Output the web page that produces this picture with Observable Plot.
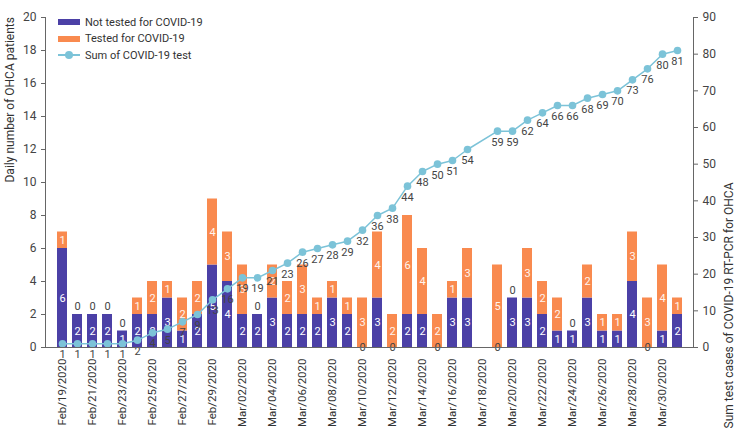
<!DOCTYPE html>
<html>
<head>
<meta charset="utf-8">
<script src="https://cdn.jsdelivr.net/npm/d3@7"></script>
<script src="https://cdn.jsdelivr.net/npm/@observablehq/plot@0.6"></script>
<style>
  html, body { margin: 0; padding: 0; background: #fff; }
  #chart { position: relative; width: 739px; height: 430px; font-family: Roboto, "Noto Sans", sans-serif; }
  .legend { position: absolute; left: 58px; top: 14px; font-size: 11px; color: #333; }
  .legend .row { display: flex; align-items: center; height: 16.5px; }
  .legend .sw { width: 22px; height: 6px; margin-right: 5px; }
  .legend .ln { width: 22px; height: 2px; margin-right: 5px; background: #7cc3d8; position: relative; }
  .legend .ln::after { content: ""; position: absolute; left: 7px; top: -3px; width: 8px; height: 8px; border-radius: 50%; background: #7cc3d8; }
</style>
</head>
<body>
<div id="chart"></div>
<script>
// Daily out-of-hospital cardiac arrest (OHCA) patients, Feb 19 – Mar 31, 2020
const dates = [
  "Feb/19/2020","Feb/20/2020","Feb/21/2020","Feb/22/2020","Feb/23/2020","Feb/24/2020","Feb/25/2020",
  "Feb/26/2020","Feb/27/2020","Feb/28/2020","Feb/29/2020","Mar/01/2020","Mar/02/2020","Mar/03/2020",
  "Mar/04/2020","Mar/05/2020","Mar/06/2020","Mar/07/2020","Mar/08/2020","Mar/09/2020","Mar/10/2020",
  "Mar/11/2020","Mar/12/2020","Mar/13/2020","Mar/14/2020","Mar/15/2020","Mar/16/2020","Mar/17/2020",
  "Mar/18/2020","Mar/19/2020","Mar/20/2020","Mar/21/2020","Mar/22/2020","Mar/23/2020","Mar/24/2020",
  "Mar/25/2020","Mar/26/2020","Mar/27/2020","Mar/28/2020","Mar/29/2020","Mar/30/2020","Mar/31/2020"
];
// null = no record for that day
const notTested = [6,2,2,2,1,2,2,3,1,2,5,4,2,2,3,2,2,2,3,2,0,3,0,2,2,0,3,3,null,0,3,3,2,1,1,3,1,1,4,0,1,2];
const tested    = [1,0,0,0,0,1,2,1,2,2,4,3,3,0,2,2,3,1,1,1,3,4,2,6,4,2,1,3,null,5,0,3,2,2,0,2,1,1,3,3,4,1];
const cumulative = [1,1,1,1,1,2,4,5,7,9,13,16,19,19,21,23,26,27,28,29,32,36,38,44,48,50,51,54,null,59,59,62,64,66,66,68,69,70,73,76,80,81];

const NT = "Not tested for COVID-19";
const T = "Tested for COVID-19";
const blue = "#4b40a6";
const orange = "#f98a4f";
const teal = "#7cc3d8";

// stacked segments: untested at the base, tested on top
const rows = [];
dates.forEach((date, i) => {
  if (notTested[i] == null) return;
  const a = notTested[i], b = tested[i];
  rows.push({date, type: NT, value: a, y1: 0, y2: a});
  rows.push({date, type: T, value: b, y1: a, y2: a + b});
});
rows.forEach(d => d.mid = (d.y1 + d.y2) / 2);
const order = [NT, T];
const line = dates.map((date, i) => ({date, sum: cumulative[i]})).filter(d => d.sum != null);

// the cumulative series shares the left y range: 0–90 maps onto 0–20
const y2 = d3.scaleLinear([0, 90], [0, 20]);

const plot = Plot.plot({
  width: 739,
  height: 430,
  marginLeft: 45,
  marginRight: 46,
  marginTop: 17,
  marginBottom: 83,
  style: {fontFamily: "Roboto, 'Noto Sans', sans-serif", fontSize: "11px", color: "#333"},
  x: {type: "band", domain: dates, padding: 0.35, label: null},
  y: {domain: [0, 20], label: null},
  color: {domain: order, range: [blue, orange]},
  marks: [
    Plot.barY(rows.filter(d => d.value > 0), {x: "date", y1: "y1", y2: "y2", fill: "type"}),
    // values inside the stacked segments
    Plot.text(rows.filter(d => d.value > 0), {x: "date", y: "mid", text: "value", fill: d => d.type === NT ? "#fff" : "#fff4ee", fontSize: 11}),
    // zero counts: untested zero at the base, tested zero above the bar
    Plot.text(rows.filter(d => d.value === 0 && d.type === NT), {x: "date", y: "mid", text: "value", fill: "#444", fontSize: 11}),
    Plot.text(rows.filter(d => d.value === 0 && d.type === T), {x: "date", y: "mid", text: "value", fill: "#444", fontSize: 11, dy: -8}),
    // cumulative tested
    Plot.line(line, {x: "date", y: d => y2(d.sum), stroke: teal, strokeWidth: 1.5}),
    Plot.dot(line, {x: "date", y: d => y2(d.sum), fill: teal, r: 3.8}),
    Plot.text(line, {x: "date", y: d => y2(d.sum), text: "sum", dy: 11, fill: "#444", fontSize: 11}),
    Plot.axisX({ticks: dates.filter((d, i) => i % 2 === 0), tickRotate: -90, tickSize: 0, tickPadding: 11, label: null, fontSize: 11.5, fill: "#333"}),
    Plot.ruleY([0], {stroke: "#666"}),
    Plot.axisY(d3.range(0, 21, 2), {anchor: "left", tickSize: 4, stroke: "#666", fill: "#444", fontSize: 12, label: null}),
    Plot.axisY(d3.range(0, 91, 10).map(v => y2(v)), {anchor: "right", tickSize: 4, stroke: "#666", fill: "#444", fontSize: 12, label: null, tickFormat: v => Math.round(y2.invert(v))}),
    Plot.frame({anchor: "left", stroke: "#666"}),
    Plot.frame({anchor: "right", stroke: "#666"}),
    Plot.text(["Daily number of OHCA patients"], {frameAnchor: "left", text: d => d, rotate: -90, dx: -35, fontSize: 12, fill: "#333"}),
    Plot.text(["Sum test cases of COVID-19 RT-PCR for OHCA"], {frameAnchor: "right", text: d => d, rotate: -90, dx: 36, fontSize: 12, fill: "#333"})
  ]
});

const chart = document.getElementById("chart");
chart.appendChild(plot);

const legend = document.createElement("div");
legend.className = "legend";
legend.innerHTML =
  `<div class="row"><span class="sw" style="background:${blue}"></span>${NT}</div>` +
  `<div class="row"><span class="sw" style="background:${orange}"></span>${T}</div>` +
  `<div class="row"><span class="ln"></span>Sum of COVID-19 test</div>`;
chart.appendChild(legend);
</script>
</body>
</html>
